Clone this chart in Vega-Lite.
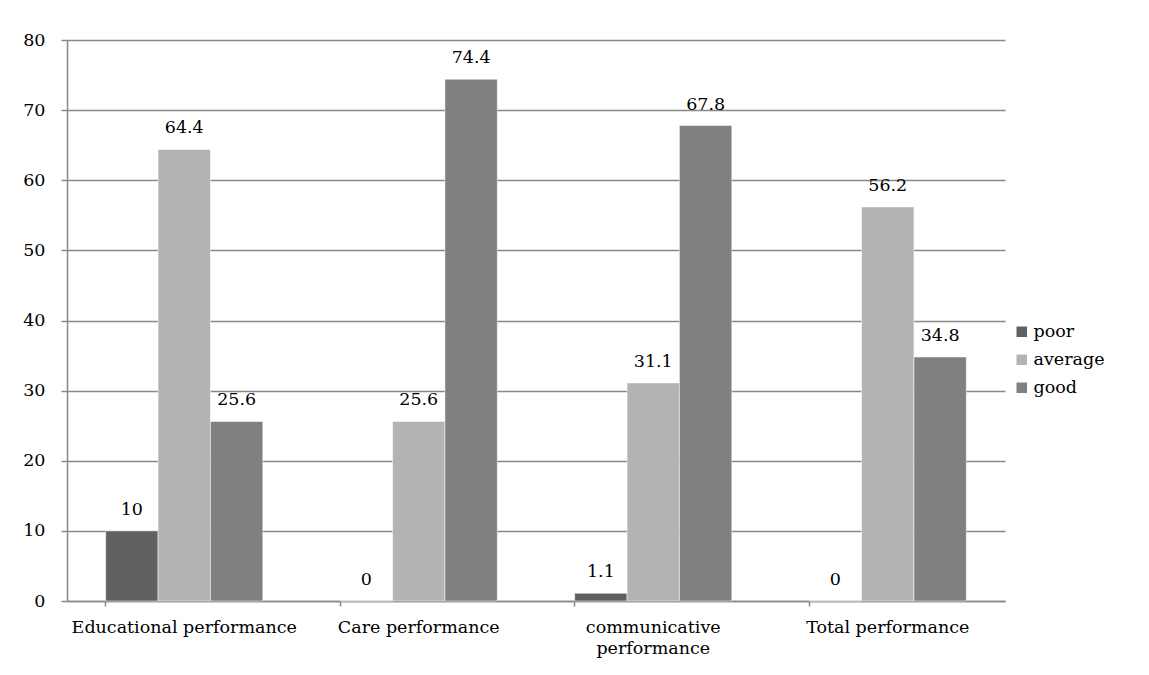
{
  "$schema": "https://vega.github.io/schema/vega-lite/v6.json",
  "width": 938,
  "height": 561,
  "autosize": "none",
  "padding": {"left": 67, "top": 40, "right": 144, "bottom": 74},
  "background": "white",
  "config": {
    "font": "DejaVu Serif",
    "view": {"stroke": null},
    "axis": {"labelFont": "DejaVu Serif", "labelFontSize": 17.5, "labelColor": "#000000", "labelLimit": 400},
    "legend": {"labelFont": "DejaVu Serif", "labelFontSize": 17.5, "labelColor": "#000000"}
  },
  "data": {
    "values": [
      {"category": "Educational performance", "level": "poor", "value": 10},
      {"category": "Educational performance", "level": "average", "value": 64.4},
      {"category": "Educational performance", "level": "good", "value": 25.6},
      {"category": "Care performance", "level": "poor", "value": 0},
      {"category": "Care performance", "level": "average", "value": 25.6},
      {"category": "Care performance", "level": "good", "value": 74.4},
      {"category": "communicative performance", "level": "poor", "value": 1.1},
      {"category": "communicative performance", "level": "average", "value": 31.1},
      {"category": "communicative performance", "level": "good", "value": 67.8},
      {"category": "Total performance", "level": "poor", "value": 0},
      {"category": "Total performance", "level": "average", "value": 56.2},
      {"category": "Total performance", "level": "good", "value": 34.8}
    ]
  },
  "encoding": {
    "x": {
      "field": "category",
      "type": "nominal",
      "sort": ["Educational performance", "Care performance", "communicative performance", "Total performance"],
      "scale": {"paddingInner": 0.33, "paddingOuter": 0.165},
      "axis": {
        "title": null,
        "labelAngle": 0,
        "bandPosition": 0,
        "tickSize": 5,
        "tickColor": "#888888",
        "tickWidth": 1.5,
        "domainColor": "#888888",
        "domainWidth": 1.5,
        "labelPadding": 12,
        "labelLineHeight": 21,
        "labelExpr": "datum.label == 'communicative performance' ? ['communicative', 'performance'] : datum.label",
        "grid": false
      }
    },
    "xOffset": {"field": "level", "type": "nominal", "sort": ["poor", "average", "good"]},
    "y": {
      "field": "value",
      "type": "quantitative",
      "scale": {"domain": [0, 80], "nice": false},
      "axis": {
        "title": null,
        "values": [0, 10, 20, 30, 40, 50, 60, 70, 80],
        "tickSize": 6,
        "tickColor": "#888888",
        "tickWidth": 1.5,
        "domainColor": "#888888",
        "domainWidth": 1.5,
        "grid": true,
        "gridColor": "#888888",
        "gridWidth": 1.5,
        "labelPadding": 16
      }
    }
  },
  "layer": [
    {
      "mark": {"type": "bar", "stroke": "#ffffff", "strokeWidth": 0.5},
      "encoding": {
        "color": {
          "field": "level",
          "type": "nominal",
          "sort": ["poor", "average", "good"],
          "scale": {"domain": ["poor", "average", "good"], "range": ["#606060", "#b3b3b3", "#808080"]},
          "legend": {
            "title": null,
            "orient": "none",
            "legendX": 946,
            "legendY": 283,
            "symbolType": "square",
            "symbolSize": 110,
            "symbolStrokeWidth": 0,
            "symbolOpacity": 1,
            "labelOffset": 3,
            "rowPadding": 9
          }
        }
      }
    },
    {
      "mark": {"type": "text", "dy": -21, "fontSize": 17.5, "font": "DejaVu Serif", "color": "#000000"},
      "encoding": {"text": {"field": "value", "type": "quantitative"}}
    }
  ]
}
